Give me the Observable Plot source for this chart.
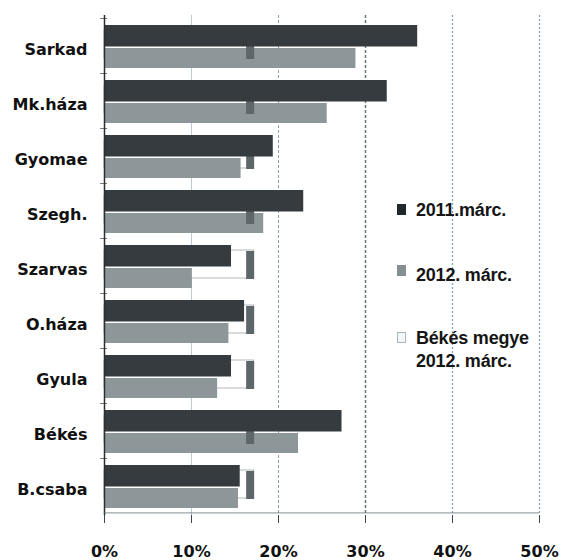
<!DOCTYPE html>
<html>
<head>
<meta charset="utf-8">
<script src="https://cdn.jsdelivr.net/npm/d3@7"></script>
<script src="https://cdn.jsdelivr.net/npm/@observablehq/plot@0.6"></script>
<style>
  html, body { margin: 0; padding: 0; background: #fff; }
  #wrap { position: relative; width: 563px; height: 560px; }
  .leg { position: absolute; font-family: "Liberation Sans", Arial, sans-serif; font-weight: bold; font-size: 18px; color: #151515; line-height: 23px; letter-spacing: -0.2px; }
  .sw { position: absolute; width: 9px; height: 11px; box-sizing: border-box; }
</style>
</head>
<body>
<div id="wrap"></div>
<script>
const categories = ["Sarkad", "Mk.háza", "Gyomae", "Szegh.", "Szarvas", "O.háza", "Gyula", "Békés", "B.csaba"];
const v2011 = [36.0, 32.5, 19.4, 22.9, 14.6, 16.1, 14.6, 27.3, 15.6];
const v2012 = [28.9, 25.6, 15.7, 18.3, 10.1, 14.3, 13.0, 22.3, 15.4];
const vMegye = [17.2, 17.2, 17.2, 17.2, 17.2, 17.2, 17.2, 17.2, 17.2];
const xTicks = [0, 10, 20, 30, 40, 50];
const seriesNames = ["2011.márc.", "2012. márc.", "Békés megye\n2012. márc."];

const data = categories.map((c, i) => ({cat: c, a: v2011[i], b: v2012[i], m: vMegye[i]}));

const W = 563, H = 560, mT = 15, mB = 45, mL = 104, mR = 24;
const bw = (H - mT - mB) / categories.length;

const chart = Plot.plot({
  width: W, height: H,
  marginTop: mT, marginBottom: mB, marginLeft: mL, marginRight: mR,
  style: {fontFamily: "DejaVu Sans, sans-serif", fontSize: "16px", fontWeight: "bold", color: "#111", background: "#fff"},
  x: {domain: [0, 50]},
  y: {domain: categories, padding: 0},
  marks: [
    Plot.ruleX([10], {stroke: "#b9cbd6", strokeWidth: 1}),
    Plot.ruleX([20], {stroke: "#8e9ea5", strokeWidth: 1, strokeDasharray: "3,2"}),
    Plot.ruleX([30], {stroke: "#6c777b", strokeWidth: 1.5, strokeDasharray: "3,2"}),
    Plot.ruleX([40, 50], {stroke: "#7fa5bb", strokeWidth: 1.3, strokeDasharray: "2,2"}),
    Plot.barX(data, {x: "m", y: "cat", insetTop: 12, insetBottom: 15, fill: "#fff", stroke: "#9ca6a9", strokeWidth: 0.8}),
    Plot.barX(data, {x: "b", y: "cat", insetTop: 30, insetBottom: 5, fill: "#8d979a"}),
    Plot.tickX(data, {x: "m", y: "cat", insetTop: 13, insetBottom: 14, stroke: "#5d676a", strokeWidth: 8, dx: -4}),
    Plot.barX(data, {x: "a", y: "cat", insetTop: 7, insetBottom: 26.5, fill: "#353b3e"}),
    Plot.ruleX([0], {stroke: "#2b2f31", strokeWidth: 1.5}),
    Plot.barX(categories, {x1: -0.45, x2: 0.35, y: d => d, insetTop: 0, insetBottom: bw - 1.2, fill: "#2b2f31"}),
    Plot.barX([categories[categories.length - 1]], {x1: 0, x2: 50, y: d => d, insetTop: bw - 1, insetBottom: -0.3, fill: "#5f6c70"}),
    Plot.axisX({ticks: xTicks, tickFormat: d => d + "%", tickSize: 8, tickPadding: 22, stroke: "#3c4548", fill: "#111", label: null}),
    Plot.axisY({tickSize: 0, tickPadding: 17, dy: 4, fill: "#111", label: null})
  ]
});

const wrap = document.getElementById("wrap");
wrap.appendChild(chart);

const legItems = [
  {name: seriesNames[0], top: 199, sq: 204, fill: "#222829", stroke: "none"},
  {name: seriesNames[1], top: 264, sq: 265, fill: "#858f92", stroke: "none"},
  {name: seriesNames[2], top: 327, sq: 332, fill: "#f4f7f8", stroke: "#a9b6bb"}
];
legItems.forEach(it => {
  const sw = document.createElement("div");
  sw.className = "sw";
  sw.style.left = "397px";
  sw.style.top = it.sq + "px";
  sw.style.background = it.fill;
  if (it.stroke !== "none") sw.style.border = "1.5px solid " + it.stroke;
  wrap.appendChild(sw);
  const t = document.createElement("div");
  t.className = "leg";
  t.style.left = "416px";
  t.style.top = it.top + "px";
  t.innerHTML = it.name.split("\n").join("<br>");
  wrap.appendChild(t);
});
</script>
</body>
</html>
